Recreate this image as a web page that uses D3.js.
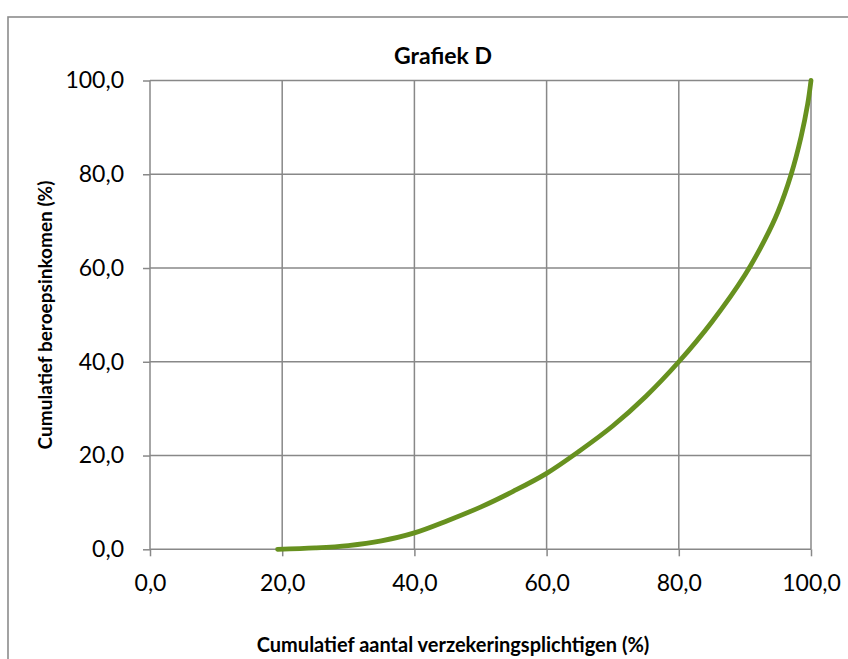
<!DOCTYPE html>
<html><head><meta charset="utf-8">
<script src="https://cdn.jsdelivr.net/npm/d3@7"></script>
<style>body{margin:0;background:#fff}svg{display:block}</style>
</head><body>
<svg id="c" width="848" height="659"></svg>
<script>
const title = "Grafiek D";
const xLabel = "Cumulatief aantal verzekeringsplichtigen (%)";
const yLabel = "Cumulatief beroepsinkomen (%)";
const xTicks = [0, 20, 40, 60, 80, 100];
const yTicks = [0, 20, 40, 60, 80, 100];
const xValues = [19.3, 25, 30, 35, 40, 45, 50, 55, 60, 65, 70, 75, 80, 85, 90, 93, 95, 97, 98.5, 99.5, 100];
const yValues = [0, 0.3, 0.8, 1.8, 3.5, 6.1, 9.0, 12.4, 16.2, 21.0, 26.3, 32.6, 40.0, 48.5, 58.5, 66, 72, 80, 88, 95, 100];

const svg = d3.select("#c");
const fmt = d => d.toFixed(1).replace(".", ",");
const x = d3.scaleLinear().domain([0, 100]).range([150, 811]);
const y = d3.scaleLinear().domain([0, 100]).range([549.3, 80.5]);
const grid = "#888888";
const font = "Lato, sans-serif";

svg.append("rect").attr("x", 8).attr("y", 17).attr("width", 900).attr("height", 700)
  .attr("fill", "#fff").attr("stroke", "#8c8c8c").attr("stroke-width", 1.6);

// grid
svg.append("g").selectAll("line").data(yTicks).join("line")
  .attr("x1", x(0)).attr("x2", x(100)).attr("y1", d => y(d)).attr("y2", d => y(d))
  .attr("stroke", grid).attr("stroke-width", 1.5);
svg.append("g").selectAll("line").data(xTicks).join("line")
  .attr("x1", d => x(d)).attr("x2", d => x(d)).attr("y1", y(0)).attr("y2", y(100))
  .attr("stroke", grid).attr("stroke-width", 1.5);

const xAxis = svg.append("g").attr("transform", `translate(0,${y(0)})`)
  .call(d3.axisBottom(x).tickValues(xTicks).tickFormat(fmt).tickSize(7).tickPadding(18));
const yAxis = svg.append("g").attr("transform", `translate(${x(0)},0)`)
  .call(d3.axisLeft(y).tickValues(yTicks).tickFormat(fmt).tickSize(7).tickPadding(19));
[xAxis, yAxis].forEach(a => {
  a.select(".domain").remove();
  a.selectAll("line").attr("stroke", grid).attr("stroke-width", 1.5);
  a.selectAll("text").attr("fill", "#000").style("font-family", font).style("font-size", "23px");
});

svg.append("path").datum(xValues.map((v, i) => [v, yValues[i]]))
  .attr("d", d3.line().x(d => x(d[0])).y(d => y(d[1])).curve(d3.curveCatmullRom.alpha(0.5)))
  .attr("fill", "none").attr("stroke", "#67911f").attr("stroke-width", 4.8).attr("stroke-linecap", "round");

svg.append("text").attr("x", 443).attr("y", 64).attr("text-anchor", "middle")
  .style("font-family", font).style("font-weight", "bold").style("font-size", "23px").text(title);
svg.append("text").attr("x", 453).attr("y", 652).attr("text-anchor", "middle")
  .style("font-family", font).style("font-weight", "bold").style("font-size", "20px").text(xLabel);
svg.append("text").attr("transform", "translate(52,315) rotate(-90)").attr("text-anchor", "middle")
  .style("font-family", font).style("font-weight", "bold").style("font-size", "19px").text(yLabel);
</script>
</body></html>
